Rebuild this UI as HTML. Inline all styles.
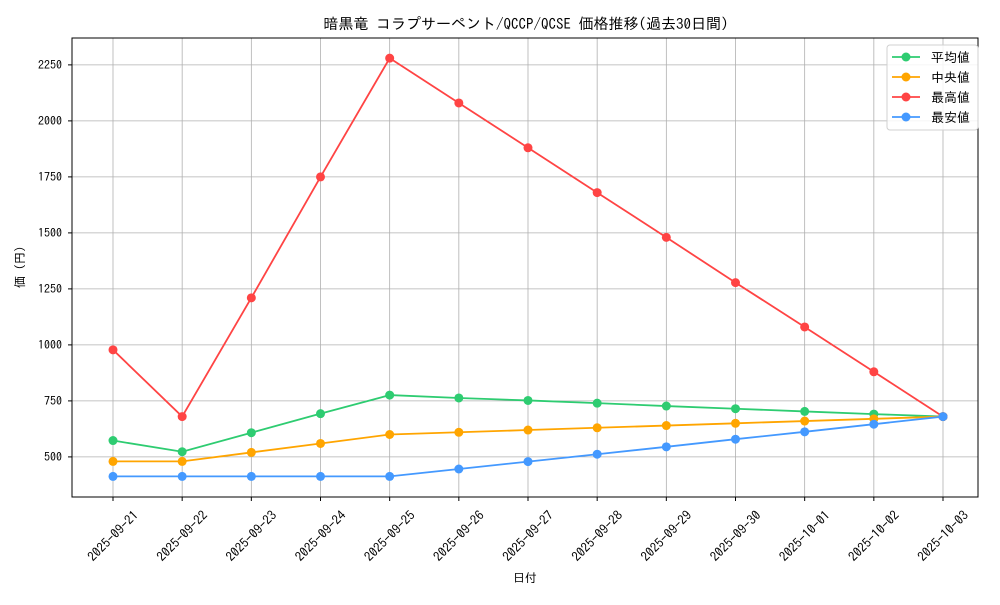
<!DOCTYPE html>
<html><head><meta charset="utf-8"><style>
body{margin:0;background:#fff;}
svg text{font-family:"IPAGothic","Noto Sans CJK JP",sans-serif;fill:#000;}
</style></head><body>
<svg id="chart" width="1000" height="600" xmlns="http://www.w3.org/2000/svg">
<rect width="1000" height="600" fill="#fff"/>
<text x="526" y="29" font-size="15" text-anchor="middle">暗黒竜 コラプサーペント/QCCP/QCSE 価格推移(過去30日間)</text>
<g id="grid"></g>
<g id="axes"></g>
<g id="series"></g>
<text x="525" y="582" font-size="12" text-anchor="middle">日付</text>
<text transform="translate(24,267) rotate(-90)" font-size="12" text-anchor="middle">価 (円)</text>
<g id="legend"></g>
</svg>
<script>
const dates=["2025-09-21","2025-09-22","2025-09-23","2025-09-24","2025-09-25","2025-09-26","2025-09-27","2025-09-28","2025-09-29","2025-09-30","2025-10-01","2025-10-02","2025-10-03"];
const avgVals=[573,523,608,693,776,763,752,740,727,715,703,691,680];
const medVals=[480,480,520,560,600,610,620,630,640,650,660,670,680];
const maxVals=[978,680,1210,1750,2280,2080,1880,1680,1480,1278,1080,880,680];
const minVals=[413,413,413,413,413,446,479,512,545,579,612,646,680];
const yTicks=[500,750,1000,1250,1500,1750,2000,2250];
const seriesNames=["平均値","中央値","最高値","最安値"];
const L=72,R=978,T=38,B=497,ymin=321,ymax=2370;
const xs=i=>113+i*(943-113)/(dates.length-1);
const ys=v=>B-(v-ymin)/(ymax-ymin)*(B-T);
const NS="http://www.w3.org/2000/svg";
function mk(tag,at,parent){const e=document.createElementNS(NS,tag);for(const k in at)e.setAttribute(k,at[k]);parent.appendChild(e);return e;}
const grid=document.getElementById('grid'),axes=document.getElementById('axes'),ser=document.getElementById('series'),leg=document.getElementById('legend');
dates.forEach((d,i)=>{
 const g=mk('line',{x1:xs(i),x2:xs(i),y1:T,y2:B,stroke:'#b0b0b0','stroke-width':0.8},grid);
 
 
 mk('line',{x1:xs(i),x2:xs(i),y1:B,y2:B+4,stroke:'#000'},axes);
 const t=mk('text',{x:0,y:0,'font-size':13,'text-anchor':'middle','dominant-baseline':'central',transform:`translate(${xs(i)},${B+39}) rotate(-45)`},axes);
 t.textContent=d;
 
 
});
yTicks.forEach(v=>{
 const g=mk('line',{x1:L,x2:R,y1:ys(v),y2:ys(v),stroke:'#b0b0b0','stroke-width':0.8},grid);
 
 
 mk('line',{x1:L-4,x2:L,y1:ys(v),y2:ys(v),stroke:'#000'},axes);
 const t=mk('text',{x:L-10,y:ys(v)+4,'font-size':12,'text-anchor':'end'},axes);
 t.textContent=v;
 
 
});
const fr=mk('rect',{x:L,y:T,width:R-L,height:B-T,fill:'none',stroke:'#000','stroke-width':1},axes);


const all=[[avgVals,'#2ecc71','avg'],[medVals,'#ffa500','median'],[maxVals,'#ff4444','max'],[minVals,'#4499ff','min']];
all.forEach(([vals,c,n])=>{
 const p=mk('polyline',{points:vals.map((v,i)=>xs(i)+','+ys(v)).join(' '),fill:'none',stroke:c,'stroke-width':1.8},ser);
 
 
 vals.forEach((v,i)=>{
  const m=mk('circle',{cx:xs(i),cy:ys(v),r:4.5,fill:c},ser);
  
  
 });
});
mk('rect',{x:887,y:45,width:91,height:85,rx:3,fill:'#fff','fill-opacity':0.85,stroke:'#d0d0d0'},leg);
all.forEach(([v,c,n],k)=>{
 const y=57+k*20;
 mk('line',{x1:892,x2:920,y1:y,y2:y,stroke:c,'stroke-width':1.8},leg);
 mk('circle',{cx:906,cy:y,r:4.5,fill:c},leg);
 const t=mk('text',{x:931,y:y+5,'font-size':13},leg);
 t.textContent=seriesNames[k];
 
 
});
</script>
</body></html>
